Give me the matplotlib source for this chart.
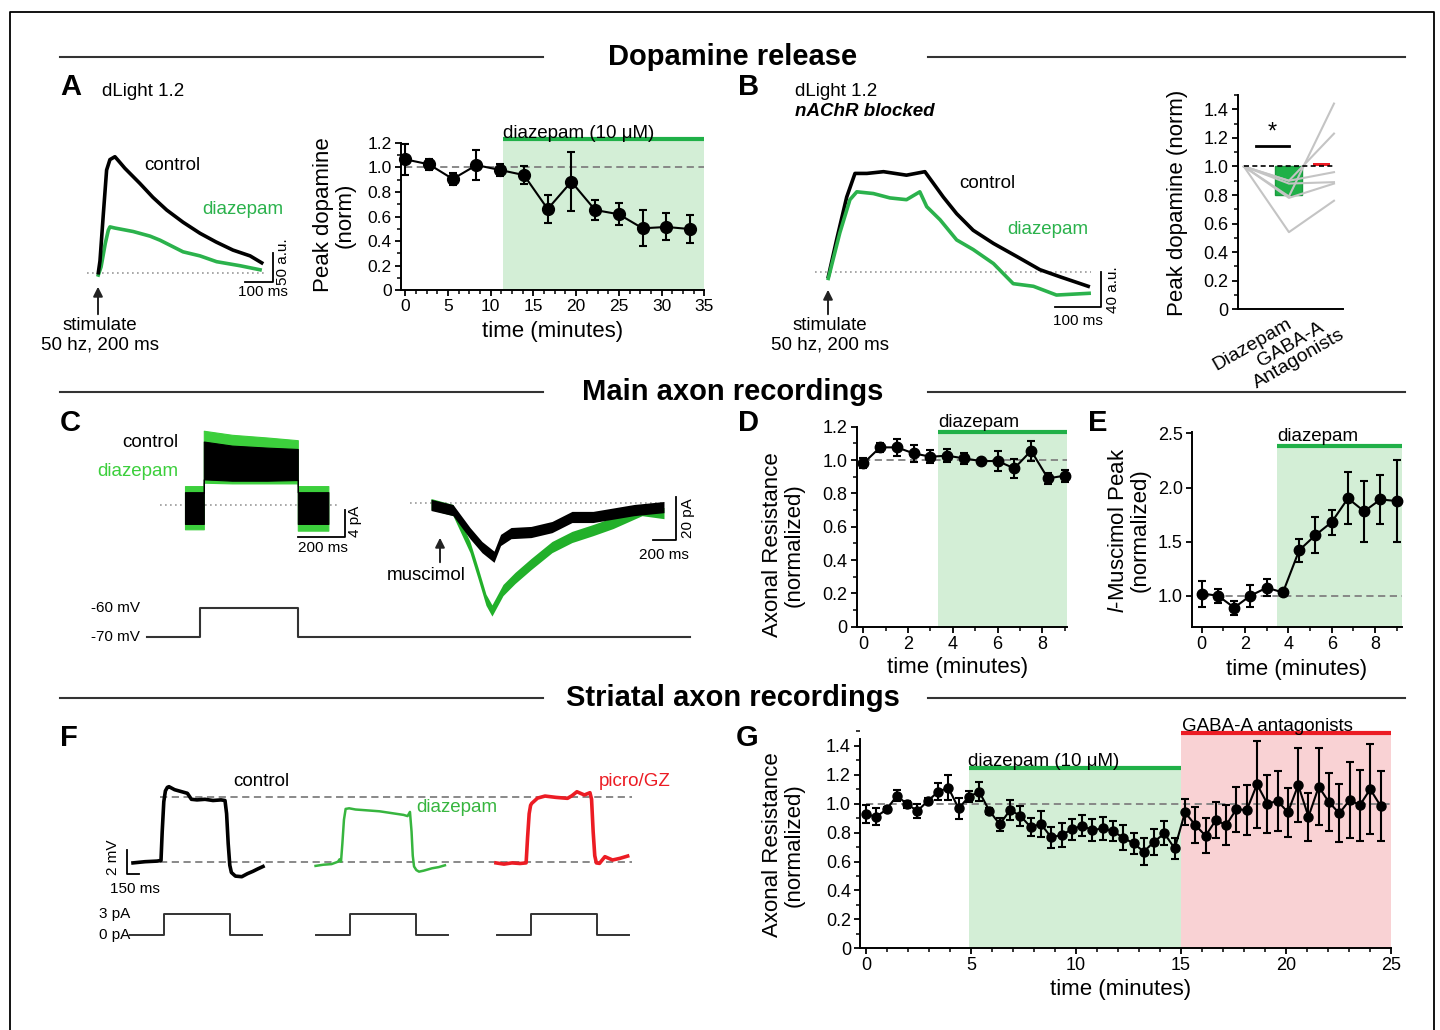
import matplotlib
matplotlib.use('Agg')
import matplotlib.pyplot as plt
from matplotlib.lines import Line2D
from matplotlib.ticker import MultipleLocator, FuncFormatter
import numpy as np

plt.rcParams['font.family'] = ['Liberation Sans', 'DejaVu Sans']
plt.rcParams['mathtext.fontset'] = 'custom'
plt.rcParams['mathtext.rm'] = 'Liberation Sans'
plt.rcParams['mathtext.it'] = 'Liberation Sans:italic'
plt.rcParams['mathtext.bf'] = 'Liberation Sans:bold'

# ===================== DATA =====================
# A: dLight traces (ms, a.u.)
a_ctl_t = [0, 6, 18, 30, 42, 60, 71, 96, 150, 197, 247, 306, 367, 425, 486, 548, 590]
a_ctl_v = [0, 20, 100, 177, 195, 200, 194, 180, 154, 130, 108, 87, 68, 53, 39, 29, 17]
a_dzp_t = [0, 10, 25, 36, 42, 60, 126, 187, 223, 306, 367, 427, 512, 584]
a_dzp_v = [-4, 10, 50, 73, 79, 77, 71, 63, 56, 36, 29, 19, 12, 5]
# A: time course
a_time = [0, 2.78, 5.56, 8.33, 11.11, 13.89, 16.67, 19.44, 22.22, 25.0, 27.78, 30.56, 33.33]
a_peak = [1.065, 1.024, 0.905, 1.018, 0.978, 0.937, 0.661, 0.883, 0.653, 0.618, 0.504, 0.515, 0.498]
a_err = [0.125, 0.045, 0.05, 0.12, 0.05, 0.075, 0.11, 0.24, 0.08, 0.09, 0.145, 0.11, 0.115]
a_drug_start = 11.4

# B: dLight traces with nAChR blocked (ms, a.u.)
b_ctl_t = [0, 18, 40, 58, 84, 120, 170, 210, 228, 250, 279, 315, 359, 410, 460, 503, 565]
b_ctl_v = [-5, 37, 86, 113, 113, 115, 111, 115, 102, 86, 67, 48, 33, 18, 3, -5, -16]
b_dzp_t = [0, 25, 47, 62, 98, 134, 170, 199, 214, 243, 279, 315, 359, 402, 446, 496, 567]
b_dzp_v = [-7, 45, 83, 92, 90, 85, 83, 92, 75, 60, 37, 26, 10, -13, -16, -26, -24]
# B: individual cells (baseline = 1)
b_cells_diaz = [0.54, 0.79, 0.90, 0.78, 0.90, 0.88]
b_cells_gaba = [0.76, 1.44, 1.23, 0.88, 0.96, 0.89]
b_categories = ['Diazepam', 'GABA-A\nAntagonists']

# C: voltage-step current (ms, pA) as noise envelopes
c_step_t = [0, 80, 80, 200, 350, 480, 480, 610]
c_dzp_hi = [2.8, 2.8, 11.0, 10.4, 10.0, 9.6, 2.8, 2.8]
c_dzp_lo = [-3.6, -3.6, 3.3, 3.2, 3.2, 3.2, -3.8, -3.8]
c_ctl_hi = [1.9, 1.9, 9.4, 8.8, 8.5, 8.3, 1.9, 1.9]
c_ctl_lo = [-2.8, -2.8, 3.8, 3.6, 3.6, 3.7, -2.8, -2.8]
# C: muscimol currents (ms, pA)
c_mus_ctl_t = [0, 191, 339, 443, 548, 605, 696, 870, 1052, 1226, 1409, 1765, 2026]
c_mus_ctl_v = [-0.9, -3.3, -14, -20.5, -25, -17.2, -14, -13.5, -11.2, -6.5, -6.5, -3.3, -1.9]
c_mus_dzp_t = [0, 191, 339, 409, 478, 530, 626, 730, 870, 1052, 1226, 1409, 1583, 1835, 2026]
c_mus_dzp_v = [-0.5, -3.3, -20.5, -32.6, -45, -50, -40.5, -34.9, -28.4, -20.5, -15.8, -12.6, -9.3, -3.3, -4.7]
# C: voltage command (ms, mV)
c_cmd_t = [-160, 64, 64, 481, 481, 2150]
c_cmd_v = [-70, -70, -60, -60, -70, -70]

# D: axonal resistance
d_time = [0, 0.75, 1.5, 2.25, 3.0, 3.75, 4.5, 5.25, 6.0, 6.75, 7.5, 8.25, 9.0]
d_val = [0.98, 1.076, 1.076, 1.04, 1.02, 1.026, 1.01, 0.994, 0.994, 0.95, 1.056, 0.89, 0.906]
d_err = [0.03, 0.025, 0.05, 0.05, 0.04, 0.04, 0.035, 0.01, 0.06, 0.055, 0.06, 0.035, 0.035]
d_drug_start = 3.35

# E: muscimol peak
e_time = [0, 0.75, 1.5, 2.25, 3.0, 3.75, 4.5, 5.25, 6.0, 6.75, 7.5, 8.25, 9.0]
e_val = [1.02, 1.0, 0.89, 1.0, 1.074, 1.03, 1.42, 1.56, 1.68, 1.90, 1.78, 1.89, 1.875]
e_err = [0.12, 0.065, 0.065, 0.1, 0.08, 0.02, 0.105, 0.165, 0.115, 0.24, 0.28, 0.23, 0.375]
e_drug_start = 3.49

# F: striatal axon voltage responses (ms, mV)
f_ctl_t = [0, 150, 300, 350, 365, 385, 405, 430, 450, 520, 600, 680, 730, 800, 900, 1000, 1100, 1150,
           1170, 1190, 1210, 1230, 1280, 1360, 1430, 1500, 1560, 1625]
f_ctl_v = [-0.1, 0.0, 0.05, 0.1, 2.5, 5.0, 5.9, 6.2, 6.25, 6.0, 5.85, 5.7, 5.2, 5.15, 5.2, 5.1, 5.15, 5.1,
           4.0, 1.5, -0.3, -0.9, -1.2, -1.25, -1.0, -0.8, -0.6, -0.4]
f_dzp_t = [0, 100, 200, 280, 300, 318, 335, 355, 376, 420, 500, 600, 700, 800, 900, 1000, 1100, 1150,
           1180, 1200, 1215, 1231, 1260, 1293, 1350, 1455, 1540, 1617]
f_dzp_v = [-0.35, -0.25, -0.2, 0.0, 0.2, 0.0, 1.5, 3.5, 4.4, 4.45, 4.35, 4.3, 4.25, 4.2, 4.1, 4.0, 3.9, 3.8,
           4.15, 2.5, 0.5, -0.4, -0.7, -0.83, -0.75, -0.55, -0.45, -0.3]
f_pic_t = [0, 100, 200, 300, 377, 395, 415, 433, 447, 520, 613, 700, 750, 894, 950, 1012, 1105, 1175,
           1195, 1215, 1235, 1255, 1294, 1362, 1457, 1550, 1646]
f_pic_v = [-0.1, -0.2, -0.1, -0.15, -0.1, 2.0, 4.0, 4.7, 4.86, 5.3, 5.47, 5.4, 5.36, 5.28, 5.5, 5.83, 5.56, 5.75,
           5.2, 2.5, 0.5, -0.1, -0.14, 0.42, 0.14, 0.28, 0.47]
f_cmd_t = [0, 430, 430, 1245, 1245, 1650]
f_cmd_i = [0, 0, 3, 3, 0, 0]
f_ref_levels = [0.0, 5.36]

# G: striatal axonal resistance
g_time = [0, 0.49, 0.98, 1.47, 1.96, 2.45, 2.94, 3.43, 3.92, 4.41, 4.9, 5.39, 5.88, 6.37, 6.86, 7.35,
          7.84, 8.33, 8.82, 9.31, 9.8, 10.29, 10.78, 11.27, 11.76, 12.25, 12.74, 13.23, 13.72, 14.21,
          14.7, 15.19, 15.68, 16.17, 16.66, 17.15, 17.64, 18.13, 18.62, 19.11, 19.6, 20.09, 20.58,
          21.07, 21.56, 22.05, 22.54, 23.03, 23.52, 24.01, 24.5]
g_val = [0.926, 0.91, 0.96, 1.055, 0.995, 0.95, 1.018, 1.082, 1.11, 0.967, 1.048, 1.082, 0.949, 0.857,
         0.955, 0.916, 0.838, 0.859, 0.767, 0.783, 0.822, 0.848, 0.817, 0.829, 0.81, 0.764, 0.725, 0.668,
         0.737, 0.794, 0.69, 0.94, 0.852, 0.778, 0.886, 0.852, 0.962, 0.955, 1.133, 1.0, 1.018, 0.94,
         1.128, 0.91, 1.117, 1.009, 0.933, 1.025, 0.99, 1.10, 0.985]
g_err = [0.063, 0.058, 0.02, 0.04, 0.025, 0.05, 0.02, 0.058, 0.085, 0.07, 0.04, 0.065, 0.02, 0.045,
         0.07, 0.07, 0.06, 0.093, 0.072, 0.085, 0.07, 0.07, 0.075, 0.077, 0.067, 0.087, 0.07, 0.092,
         0.09, 0.083, 0.074, 0.09, 0.127, 0.122, 0.123, 0.136, 0.155, 0.173, 0.3, 0.2, 0.21, 0.17,
         0.256, 0.165, 0.265, 0.2, 0.2, 0.265, 0.245, 0.31, 0.24]
g_diaz_start, g_gaba_start, g_end = 4.9, 15.0, 25.0

# ===================== STYLE =====================
GREEN = '#2bb24c'
GREEN_C = '#3ccf3c'
GREEN_F = '#37b53f'
GREEN_LIGHT = '#d3eed6'
GREEN_BAR = '#20b048'
RED = '#ec1c24'
PINK = '#f9d2d4'
GREY_DASH = '#808080'

W, H = 1440, 1030
fig = plt.figure(figsize=(W / 100, H / 100), dpi=100)


def add_ax(L, T, R, B):
    return fig.add_axes([L / W, 1 - B / H, (R - L) / W, (B - T) / H])


def map_ax(L, T, R, B, x0px, x0, sx, y0px, y0, sy, off=True):
    ax = add_ax(L, T, R, B)
    ax.set_xlim(x0 + (L - x0px) / sx, x0 + (R - x0px) / sx)
    ax.set_ylim(y0 - (B - y0px) / sy, y0 + (y0px - T) / sy)
    if off:
        ax.axis('off')
    return ax


def ftext(x, y, s, size=13.5, ha='left', va='center', **kw):
    fig.text(x / W, 1 - y / H, s, fontsize=size, ha=ha, va=va, **kw)


def fline(xs, ys, **kw):
    fig.add_artist(Line2D([x / W for x in xs], [1 - y / H for y in ys],
                          transform=fig.transFigure, **kw))


def farrow(x, y0, y1):
    fig.add_artist(matplotlib.patches.FancyArrowPatch(
        (x / W, 1 - y0 / H), (x / W, 1 - y1 / H), transform=fig.transFigure,
        arrowstyle='-|>', mutation_scale=14, color='#222222', lw=1.4))


def style_axes(ax, fs=13):
    for s in ['top', 'right']:
        ax.spines[s].set_visible(False)
    for s in ['left', 'bottom']:
        ax.spines[s].set_linewidth(1.4)
    ax.tick_params(which='major', direction='out', length=4.5, width=1.3, labelsize=fs, pad=2)
    ax.tick_params(which='minor', direction='out', length=2.8, width=1.1)


def ebar(ax, x, y, e, ms):
    cont = ax.errorbar(x, y, yerr=e, fmt='-o', color='k', ms=ms, lw=1.5, elinewidth=1.5,
                       capsize=3, capthick=1.5, zorder=5)
    for art in cont.get_children():
        art.set_clip_on(False)


fmt1 = FuncFormatter(lambda v, p: '0' if abs(v) < 1e-9 else f'{v:.1f}')

# ---------- frame and section headers ----------
fline([10, 10, 1434, 1434], [1030, 12, 12, 1030], color='k', lw=1.3)
for yl, yb, title in [(57, 65, 'Dopamine release'), (392, 400, 'Main axon recordings'),
                      (698, 706, 'Striatal axon recordings')]:
    fline([60, 543], [yl, yl], color='#333333', lw=1.5)
    fline([928, 1405], [yl, yl], color='#333333', lw=1.5)
    ftext(733, yb, title, size=21, ha='center', va='baseline', weight='bold')
for x, y, s in [(60, 95, 'A'), (738, 95, 'B'), (60, 431, 'C'), (738, 431, 'D'),
                (1088, 431, 'E'), (60, 746, 'F'), (736, 746, 'G')]:
    ftext(x, y, s, size=21, va='baseline', weight='bold')

# ===================== PANEL A =====================
axt = map_ax(70, 140, 300, 300, 98.3, 0, 0.277, 272.7, 0, 0.58)
axt.plot([-42, 601], [0, 0], ls=(0, (1, 2)), color='#999999', lw=1.2)
axt.plot(a_dzp_t, a_dzp_v, color=GREEN, lw=2.6, solid_joinstyle='round')
axt.plot(a_ctl_t, a_ctl_v, color='k', lw=2.6, solid_joinstyle='round')
axt.plot([529.6, 629.6, 629.6], [-15.5, -15.5, 34.5], color='k', lw=1.3)
ftext(102, 92, 'dLight 1.2')
ftext(144, 166, 'control')
ftext(202, 209, 'diazepam', color=GREEN)
ftext(100, 326, 'stimulate', ha='center')
ftext(100, 345, '50 hz, 200 ms', ha='center')
ftext(263, 292, '100 ms', size=11, ha='center')
ftext(283, 262, '50 a.u.', size=11, ha='center', rotation=90)
farrow(98, 317, 284)

axa = add_ax(401, 137.8, 704.3, 290.3)
axa.set_xlim(-0.5, 35)
axa.set_ylim(0, 1.24)
style_axes(axa, 12.5)
axa.spines['left'].set_bounds(0, 1.2)
axa.fill_between([a_drug_start, 35], 0, 1.23, color=GREEN_LIGHT, lw=0, zorder=0)
axa.plot([a_drug_start, 35], [1.23, 1.23], color=GREEN_BAR, lw=3, clip_on=False, solid_capstyle='butt')
axa.plot([0, 35], [1, 1], color=GREY_DASH, lw=1.3, dashes=(4, 2.5), zorder=2)
ebar(axa, a_time, a_peak, a_err, 8.5)
axa.set_yticks(np.arange(0, 1.21, 0.2))
axa.yaxis.set_major_formatter(fmt1)
axa.yaxis.set_minor_locator(MultipleLocator(0.1))
axa.set_xticks(range(0, 36, 5))
axa.xaxis.set_minor_locator(MultipleLocator(1.25))
ftext(503, 138, 'diazepam (10 μM)', va='baseline')
ftext(334, 215, 'Peak dopamine\n(norm)', size=16, ha='center', rotation=90, linespacing=1.05)
ftext(553, 332, 'time (minutes)', size=16, ha='center')

# ===================== PANEL B =====================
axt = map_ax(800, 150, 1130, 320, 828.3, 0, 0.46, 272.3, 0, 0.875)
axt.plot([-29, 572], [0, 0], ls=(0, (1, 2)), color='#999999', lw=1.2)
axt.plot(b_ctl_t, b_ctl_v, color='k', lw=2.6, solid_joinstyle='round')
axt.plot(b_dzp_t, b_dzp_v, color=GREEN, lw=2.6, solid_joinstyle='round')
axt.plot([493, 593, 593], [-39.3, -39.3, 0.7], color='k', lw=1.3)
ftext(795, 92, 'dLight 1.2')
ftext(795, 111, 'nAChR blocked', weight='bold', style='italic')
ftext(959, 183, 'control')
ftext(1007, 230, 'diazepam', color=GREEN)
ftext(830, 326, 'stimulate', ha='center')
ftext(830, 345, '50 hz, 200 ms', ha='center')
ftext(1078, 321, '100 ms', size=11, ha='center')
ftext(1113, 290, '40 a.u.', size=11, ha='center', rotation=90)
farrow(828, 317, 287)

axb = add_ax(1237.7, 95, 1343, 309.3)
axb.set_xlim(-0.137, 2.2)
axb.set_ylim(0, 1.5)
style_axes(axb, 13)
axb.tick_params(axis='x', which='both', length=0, labelbottom=False)
mean_d = float(np.mean(b_cells_diaz))
mean_g = float(np.mean(b_cells_gaba))
axb.bar(1.0, mean_d - 1.0, bottom=1.0, width=0.6, color=GREEN_BAR, edgecolor='#1a9a3e', lw=1, zorder=2)
axb.bar(1.72, mean_g - 1.0, bottom=1.0, width=0.38, color=RED, lw=0, zorder=2)
for d, g in zip(b_cells_diaz, b_cells_gaba):
    axb.plot([0, 1, 2], [1.0, d, g], color='#c4c4c4', lw=1.5, zorder=3)
axb.plot([0, 2], [1, 1], color='k', lw=1.2, dashes=(3, 2), zorder=4)
axb.plot([0.27, 1.0], [1.14, 1.14], color='k', lw=2)
axb.text(0.63, 1.16, '*', fontsize=17, ha='center', va='bottom')
axb.set_yticks(np.arange(0, 1.41, 0.2))
axb.yaxis.set_major_formatter(fmt1)
axb.yaxis.set_minor_locator(MultipleLocator(0.1))
axb.text(0.95, -0.04, b_categories[0], fontsize=14, rotation=30, ha='right', va='top',
         rotation_mode='anchor')
axb.text(1.93, -0.02, b_categories[1], fontsize=14, rotation=30, ha='right', va='top',
         rotation_mode='anchor', multialignment='center', linespacing=0.95)
ftext(1178, 203, 'Peak dopamine (norm)', size=16, ha='center', rotation=90)

# ===================== PANEL C =====================
axc = map_ax(150, 410, 370, 560, 185, 0, 0.235, 505, 0, 6.75)
axc.plot([-106, 660], [0, 0], ls=(0, (1, 2)), color='#999999', lw=1.2, zorder=0)
axc.fill_between(c_step_t, c_dzp_lo, c_dzp_hi, color=GREEN_C, lw=0.8, edgecolor=GREEN_C)
axc.fill_between(c_step_t, c_ctl_lo, c_ctl_hi, color='k', lw=0.8, edgecolor='k')
axc.plot([481, 681, 681], [-4.74, -4.74, -0.74], color='k', lw=1.3)
ftext(178, 443, 'control', ha='right')
ftext(178, 472, 'diazepam', ha='right', color=GREEN_C)
ftext(323, 548, '200 ms', size=11, ha='center')
ftext(355, 521, '4 pA', size=11, ha='center', rotation=90)

axm = map_ax(400, 480, 700, 630, 431, 0, 0.115, 503, 0, 2.15)
axm.plot([-183, 2035], [0, 0], ls=(0, (1, 2)), color='#999999', lw=1.2, zorder=0)
dz_v = np.array(c_mus_dzp_v)
ct_v = np.array(c_mus_ctl_v)
axm.fill_between(c_mus_dzp_t, dz_v - 2.6, dz_v + 2.6, color='#22b02a', lw=0)
axm.fill_between(c_mus_ctl_t, ct_v - 2.6, ct_v + 2.6, color='k', lw=0)
axm.plot([1930, 2130, 2130], [-17.2, -17.2, 2.8], color='k', lw=1.3)
ftext(426, 576, 'muscimol', ha='center')
farrow(440, 565, 535)
ftext(664, 555, '200 ms', size=11, ha='center')
ftext(688, 518, '20 pA', size=11, ha='center', rotation=90)

axv = map_ax(140, 595, 700, 645, 185, 0, 0.235, 637, -70, 2.9)
axv.plot(c_cmd_t, c_cmd_v, color='#333333', lw=1.5)
ftext(140, 608, '-60 mV', size=11, ha='right')
ftext(140, 637, '-70 mV', size=11, ha='right')

# ===================== PANEL D =====================
axd = add_ax(856.7, 426.7, 1066.7, 626.7)
axd.set_xlim(-0.295, 9.09)
axd.set_ylim(0, 1.2)
style_axes(axd, 13)
axd.fill_between([d_drug_start, 9.09], 0, 1.17, color=GREEN_LIGHT, lw=0, zorder=0)
axd.plot([d_drug_start, 9.09], [1.17, 1.17], color=GREEN_BAR, lw=3, clip_on=False, solid_capstyle='butt')
axd.plot([0, 9.09], [1, 1], color=GREY_DASH, lw=1.3, dashes=(4, 2.5), zorder=2)
ebar(axd, d_time, d_val, d_err, 7.5)
axd.set_yticks(np.arange(0, 1.21, 0.2))
axd.yaxis.set_major_formatter(fmt1)
axd.yaxis.set_minor_locator(MultipleLocator(0.1))
axd.set_xticks([0, 2, 4, 6, 8])
axd.xaxis.set_minor_locator(MultipleLocator(1))
ftext(938, 427, 'diazepam', va='baseline')
ftext(783, 545, 'Axonal Resistance\n(normalized)', size=16, ha='center', rotation=90, linespacing=1.05)
ftext(958, 668, 'time (minutes)', size=16, ha='center')

# ===================== PANEL E =====================
axe = add_ax(1191.7, 431.7, 1401.7, 626.7)
axe.set_xlim(-0.46, 9.23)
axe.set_ylim(0.7135, 2.516)
style_axes(axe, 13)
axe.fill_between([e_drug_start, 9.23], 0.7135, 2.38, color=GREEN_LIGHT, lw=0, zorder=0)
axe.plot([e_drug_start, 9.23], [2.38, 2.38], color=GREEN_BAR, lw=3, clip_on=False, solid_capstyle='butt')
axe.plot([0, 9.23], [1, 1], color=GREY_DASH, lw=1.3, dashes=(4, 2.5), zorder=2)
ebar(axe, e_time, e_val, e_err, 7.5)
axe.set_yticks([1.0, 1.5, 2.0, 2.5])
axe.yaxis.set_major_formatter(fmt1)
axe.set_xticks([0, 2, 4, 6, 8])
axe.xaxis.set_minor_locator(MultipleLocator(1))
ftext(1277, 441, 'diazepam', va='baseline')
ftext(1129, 530, '$\\mathit{l}$-Muscimol Peak\n(normalized)', size=16, ha='center', rotation=90,
      linespacing=1.05)
ftext(1297, 670, 'time (minutes)', size=16, ha='center')

# ===================== PANEL F =====================
f_offsets = [0, 2282, 4537]
f_cmd_offsets = [-37, 2287, 4550]
axf = map_ax(95, 770, 690, 900, 133, 0, 0.08, 861.7, 0, 12)
for lvl in f_ref_levels:
    axf.plot([337, 6237], [lvl, lvl], color=GREY_DASH, lw=1.3, dashes=(4, 2.5), zorder=0)
axf.plot(np.array(f_ctl_t) + f_offsets[0], f_ctl_v, color='k', lw=2.6, solid_joinstyle='round')
axf.plot(np.array(f_dzp_t) + f_offsets[1], f_dzp_v, color=GREEN_F, lw=1.8, solid_joinstyle='round')
axf.plot(np.array(f_pic_t) + f_offsets[2], f_pic_v, color=RED, lw=2.6, solid_joinstyle='round')
axf.plot([-75, -75, 75], [1.0, -1.0, -1.0], color='k', lw=1.3)
ftext(233, 782, 'control')
ftext(416, 808, 'diazepam', color=GREEN_F)
ftext(599, 782, 'picro/GZ', color=RED)
ftext(113, 857, '2 mV', size=11, ha='center', rotation=90)
ftext(135, 889, '150 ms', size=11, ha='center')

axfc = map_ax(95, 900, 690, 945, 133, 0, 0.08, 935, 0, 7)
for off in f_cmd_offsets:
    axfc.plot(np.array(f_cmd_t) + off, f_cmd_i, color='#333333', lw=1.4)
ftext(130, 914, '3 pA', size=11, ha='right')
ftext(130, 935, '0 pA', size=11, ha='right')

# ===================== PANEL G =====================
axg = add_ax(860, 731.3, 1391, 948.3)
axg.set_xlim(-0.286, 25)
axg.set_ylim(0, 1.5)
style_axes(axg, 13)
axg.spines['left'].set_bounds(0, 1.45)
axg.fill_between([g_diaz_start, g_gaba_start], 0, 1.245, color=GREEN_LIGHT, lw=0, zorder=0)
axg.fill_between([g_gaba_start, g_end], 0, 1.49, color=PINK, lw=0, zorder=0)
axg.plot([g_diaz_start, g_gaba_start], [1.245, 1.245], color=GREEN_BAR, lw=3, solid_capstyle='butt')
axg.plot([g_gaba_start, g_end], [1.49, 1.49], color=RED, lw=3, clip_on=False, solid_capstyle='butt')
axg.plot([0, 25], [1, 1], color=GREY_DASH, lw=1.3, dashes=(4, 2.5), zorder=2)
ebar(axg, g_time, g_val, g_err, 6.5)
axg.set_yticks(np.arange(0, 1.41, 0.2))
axg.yaxis.set_major_formatter(fmt1)
axg.yaxis.set_minor_locator(MultipleLocator(0.1))
axg.set_xticks(range(0, 26, 5))
axg.xaxis.set_minor_locator(MultipleLocator(1))
ftext(968, 766, 'diazepam (10 μM)', va='baseline')
ftext(1182, 731, 'GABA-A antagonists', va='baseline')
ftext(783, 845, 'Axonal Resistance\n(normalized)', size=16, ha='center', rotation=90, linespacing=1.05)
ftext(1121, 990, 'time (minutes)', size=16, ha='center')

fig.savefig('out.png', dpi=100)
